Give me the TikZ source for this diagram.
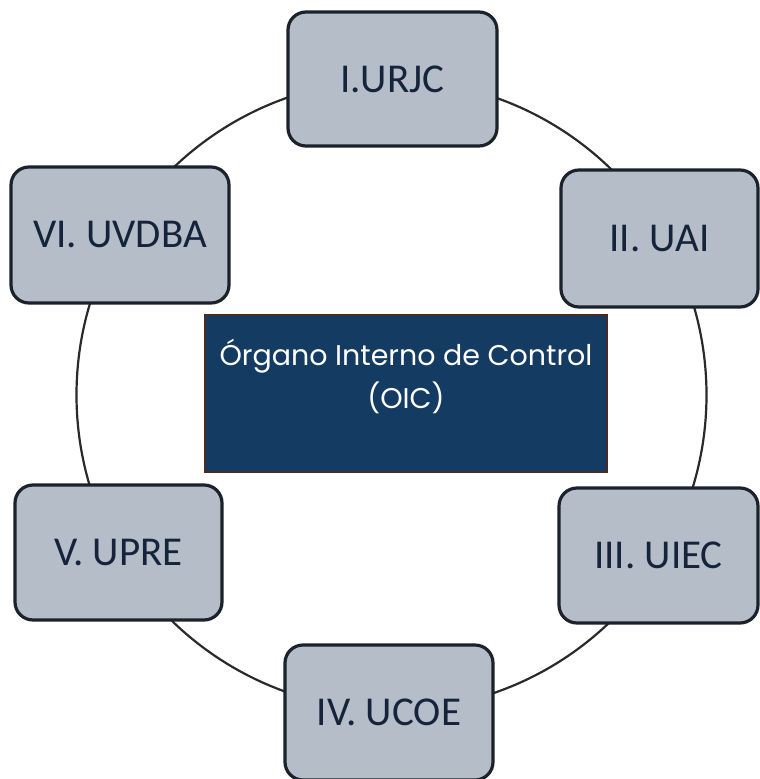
\documentclass[tikz,border=0pt]{standalone}
\usepackage{fontspec}
\setmainfont{Carlito}
\newfontfamily\oicfont{Poppins}
\definecolor{boxfill}{HTML}{B5BDC9}
\definecolor{boxline}{HTML}{1B222C}
\definecolor{boxtext}{HTML}{15243A}
\definecolor{oicfill}{HTML}{143B62}
\definecolor{oicline}{HTML}{4A2A22}
\definecolor{ringc}{HTML}{2A2A2A}
\begin{document}
\begin{tikzpicture}[x=1pt,y=-1pt]
\useasboundingbox (0,0) rectangle (760,779);
\fill[white] (0,0) rectangle (760,779);
\tikzset{
  unit/.style={draw=boxline, fill=boxfill, line width=3.2pt, rounded corners=18pt,
    font=\fontsize{41}{48}\selectfont, text=boxtext, inner sep=0pt},
  oic/.style={draw=oicline, fill=oicfill, line width=1.8pt, text=white,
    font=\oicfont\fontsize{28.5}{43}\selectfont, align=center, inner sep=0pt}
}
\node[circle, draw=ringc, line width=2.2pt, minimum size=630pt, inner sep=0pt] (ring) at (391.5,395) {};
\node[unit, minimum width=209pt, minimum height=134pt] (u1) at (392.5,79) {I.URJC};
\node[unit, minimum width=197pt, minimum height=137pt] (u2) at (659.5,238.5) {II. UAI};
\node[unit, minimum width=199pt, minimum height=135pt] (u3) at (658.5,555.5) {III. UIEC};
\node[unit, minimum width=208pt, minimum height=135pt] (u4) at (389,712.5) {IV. UCOE};
\node[unit, minimum width=207pt, minimum height=135pt] (u5) at (118.5,552.5) {V. UPRE};
\node[unit, minimum width=218pt, minimum height=136pt] (u6) at (120,235) {VI. UVDBA};
\node[oic, minimum width=402pt, minimum height=157pt] (oic) at (406,393.5) {Órgano Interno de Control\\(OIC)\\[-4pt]\mbox{}};
\end{tikzpicture}
\end{document}
